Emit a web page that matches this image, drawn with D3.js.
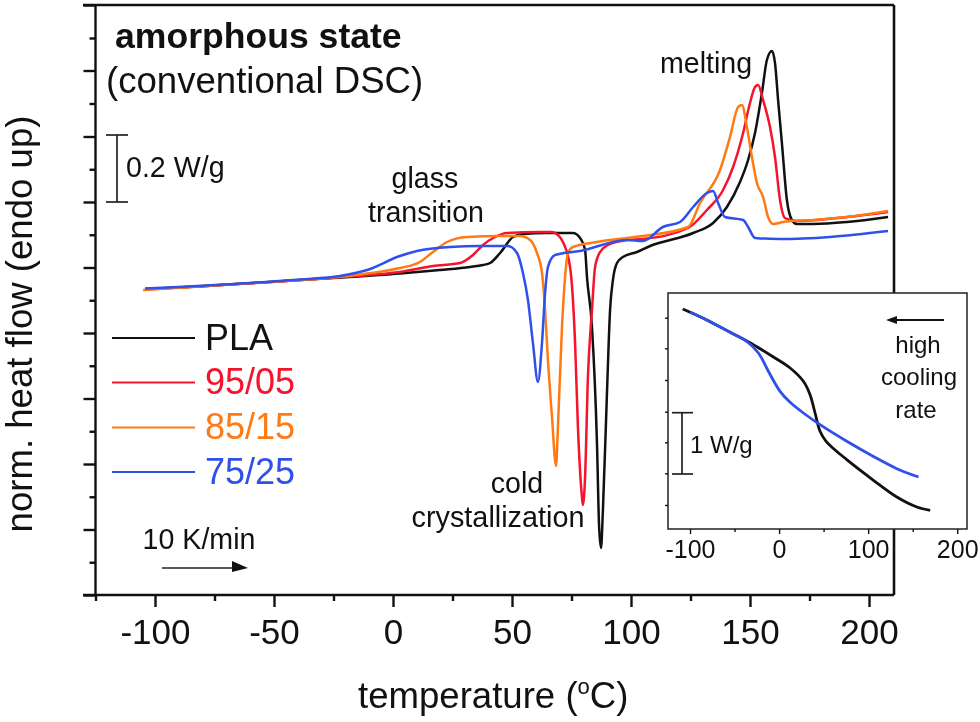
<!DOCTYPE html>
<html><head><meta charset="utf-8">
<script src="https://cdn.jsdelivr.net/npm/d3@7"></script>
<style>html,body{margin:0;padding:0;background:#fff}svg{display:block;filter:blur(0.45px)}text{font-family:"Liberation Sans",Arial,sans-serif;fill:#111}</style>
</head><body><svg id="c" width="980" height="722"></svg>
<script>
// Heat-flow values are in arbitrary units: the reference's y axis has no numbers.
const pla = [[-104.2,306],[-81.1,308.6],[-60.1,311.8],[-39.1,315],[-18.1,318],[2.9,321.5],[19.7,325],[32.4,328],[37.8,330],[40.8,332],[45,342],[50.4,358],[54.6,361],[64.7,362],[75.6,362],[78.6,357],[80.7,345],[81.5,318],[83.6,268],[85.7,152],[86.6,68],[87.4,47],[88.2,85],[89.9,202],[91.2,285],[92.4,315],[94.1,332],[96.6,338],[102.5,343],[108,349],[126.1,362],[134.5,372],[140.3,388],[145.8,413],[149.2,435],[152.1,462],[155,502],[157.1,535],[159.2,544],[160.5,532],[161.8,495],[163.4,452],[165.5,395],[167.6,375],[169.7,371],[176.5,371],[190.8,373],[208,378]];
const b9505 = [[-104.2,305.5],[-60.1,311.8],[-18.1,318.5],[2.9,323],[16.8,329],[28.2,332],[33.6,340],[37.8,350],[42.9,358],[47.9,362],[61.8,363],[66.8,363],[69.3,360],[71.4,353],[74.4,328],[76.5,252],[77.7,168],[79.4,98],[79.8,90],[80.7,118],[81.9,218],[83.6,285],[84.9,328],[87,343],[90.3,350],[98.3,355],[105,356],[124,367],[131.9,385],[138.7,405],[142.9,428],[147.1,462],[150,492],[152.1,508],[153.4,510],[155.5,495],[158.4,468],[160.5,438],[162.6,395],[164.7,377],[169.7,374],[190.8,378],[208,383]];
const b8515 = [[-105,305],[-60.1,311.8],[-25.2,317.5],[-10.9,321.5],[2.9,327],[11.3,333],[16.8,343],[22.7,353],[31.1,358],[45,359],[53.4,359],[57.6,355],[60.5,342],[62.6,322],[63.9,285],[65.1,235],[66.8,178],[68.5,129],[69.3,168],[71,268],[72.3,318],[73.5,342],[75.6,348],[85.7,353],[98.3,357],[105,359],[124,368],[129,392],[137.4,425],[141.6,458],[145,488],[146.6,490],[148.7,468],[150.8,438],[152.9,412],[155.5,398],[157.6,378],[159.7,371],[163.9,373],[176.5,375],[190.8,378],[208,384]];
const b7525 = [[-104.2,306.5],[-60.1,312],[-39.1,315.5],[-22.3,319],[-10.9,325],[2.9,339],[10.1,344],[23.9,348],[36.6,349],[48.3,349],[52.1,342],[54.6,322],[56.7,295],[58.8,252],[60.9,213],[62.6,252],[63.9,302],[65.1,328],[68.1,340],[78.6,344],[98.3,355],[105,354],[113.4,368],[120.6,373],[126.1,388],[131.9,402],[134.5,404],[136.6,392],[139.5,378],[147.1,375],[149.2,368],[152.1,357],[162.6,356],[183.6,358],[208,364]];
const insetPla = [[-108.2,220],[-81.7,209.3],[-55,196.7],[-28.8,184.3],[-6.4,172],[12.4,161],[27.3,147.7],[34.8,134.3],[40.4,116],[46,97.7],[52.8,87.7],[76,69.3],[106,48.7],[132.2,32],[154.7,22],[169.7,18.7]];
const inset7525 = [[-100,217],[-81.7,209.3],[-55,196.7],[-36.3,187.7],[-23.2,176],[-12,157.7],[1.1,137.7],[12.4,126.7],[27.3,116],[46,104.3],[76,87.7],[106,72.5],[132.2,60.3],[156.6,52]];
const seriesNames = ["PLA","95/05","85/15","75/25"];
const seriesColors = ["#111111","#f5142e","#ff7a12","#2f50ea"];
const mainXMajor = [-100,-50,0,50,100,150,200];
const mainXMinor = [-125,-75,-25,25,75,125,175];
const mainYMajor = [0,65.5,131,196.5,262,327.5,393,458.5,524.5,590];
const mainYMinor = [32.75,98.25,163.75,229.25,294.75,360.25,425.75,491.5,557];
const insetXMajor = [-100,0,100,200];
const insetXMinor = [-50,50,150];
const insetYTicks = [24,55.7,86.7,117.3,149,180.7,211.3];

const svg = d3.select("#c");
const mx = d3.scaleLinear().domain([-125,210.5]).range([95.5,894]);
const my = d3.scaleLinear().domain([0,590]).range([595,5]);
const ix = d3.scaleLinear().domain([-124.7,211]).range([668,967]);
const iy = d3.scaleLinear().domain([0,236]).range([529,293]);

function styleAxis(g){g.selectAll("path,line").attr("stroke","#111").attr("stroke-width",2.4);g.select(".domain").remove();}
function label(t,x,y,size,opt={}){
  const e=svg.append("text").attr("x",x).attr("y",y).attr("font-size",size).text(t);
  if(opt.anchor)e.attr("text-anchor",opt.anchor);
  if(opt.fill)e.style("fill",opt.fill);
  if(opt.weight)e.attr("font-weight",opt.weight);
  return e;
}
function rule(x1,y1,x2,y2,w=1.7,c="#222"){svg.append("line").attr("x1",x1).attr("y1",y1).attr("x2",x2).attr("y2",y2).attr("stroke",c).attr("stroke-width",w);}

// main frame + axes
rule(83,5,894,5,2.4,"#111"); rule(83,595,894,595,2.4,"#111");
rule(95.5,5,95.5,595,2.4,"#111"); rule(894,5,894,595,2.6,"#111");

const xG=svg.append("g").attr("transform","translate(0,595)");
xG.call(d3.axisBottom(mx).tickValues(mainXMajor).tickSize(12).tickFormat(d=>String(d))).call(styleAxis);
xG.selectAll("text").attr("font-size",35).attr("dy",0).attr("y",49).style("font-family",'"Liberation Sans"').attr("fill","#111");
const xM=svg.append("g").attr("transform","translate(0,595)");
xM.call(d3.axisBottom(mx).tickValues(mainXMinor).tickSize(6).tickFormat("")).call(styleAxis);
const yG=svg.append("g").attr("transform","translate(95.5,0)");
yG.call(d3.axisLeft(my).tickValues(mainYMajor).tickSize(12).tickFormat("")).call(styleAxis);
const yM=svg.append("g").attr("transform","translate(95.5,0)");
yM.call(d3.axisLeft(my).tickValues(mainYMinor).tickSize(6).tickFormat("")).call(styleAxis);

// main curves
const line=d3.line().x(d=>mx(d[0])).y(d=>my(d[1])).curve(d3.curveMonotoneX);
[pla,b9505,b8515,b7525].forEach((s,i)=>{
  svg.append("path").datum(s).attr("d",line).attr("fill","none").attr("stroke",seriesColors[i]).attr("stroke-width",2.5).attr("stroke-linejoin","round");
});

// titles
label("amorphous state",115,48,35.6,{weight:"bold"});
label("(conventional DSC)",106,93,36.6);
label("0.2 W/g",126,177,28.6);
label("glass",425,188,28.6,{anchor:"middle"});
label("transition",426,222,28.6,{anchor:"middle"});
label("melting",706,73,28.6,{anchor:"middle"});
label("cold",517,493,28.6,{anchor:"middle"});
label("crystallization",498,527,28.8,{anchor:"middle"});
label("10 K/min",199,549,28.6,{anchor:"middle"});

// 0.2 W/g bar
rule(117,135,117,202); rule(106,135,128,135); rule(106,202,128,202);

// legend
seriesNames.forEach((n,i)=>{
  const ly=[338,382.5,427.5,472][i];
  rule(112,ly,195,ly,2.2,seriesColors[i]);
  label(n,205,ly+11.5,36,{fill:seriesColors[i]});
});

// rate arrow
rule(162,568,238,568,1.5,"#222");
svg.append("path").attr("d","M232,561L248,568L232,572Z").attr("fill","#111");

// axis titles
label("norm. heat flow (endo up)",0,0,36.6,{anchor:"middle"}).attr("transform","translate(32,324) rotate(-90)");
const tt=label("temperature (",358,708,36.6);
tt.append("tspan").attr("dy",-14).attr("font-size",22).text("o");
tt.append("tspan").attr("dy",14).text("C)");

// inset
svg.append("rect").attr("x",668).attr("y",293).attr("width",299).attr("height",236).attr("fill","#fff").attr("stroke","#222").attr("stroke-width",1.5);
const ixG=svg.append("g").attr("transform","translate(0,529)");
ixG.call(d3.axisBottom(ix).tickValues(insetXMajor).tickSize(5).tickFormat(d=>String(d))).call(styleAxis);
ixG.selectAll("line").attr("stroke-width",1.4);
ixG.selectAll("text").attr("font-size",25).attr("dy",0).attr("y",29).style("font-family",'"Liberation Sans"').attr("fill","#111");
const ixM=svg.append("g").attr("transform","translate(0,529)");
ixM.call(d3.axisBottom(ix).tickValues(insetXMinor).tickSize(3).tickFormat("")).call(styleAxis);
ixM.selectAll("line").attr("stroke-width",1.4);
const iyG=svg.append("g").attr("transform","translate(668,0)");
iyG.call(d3.axisLeft(iy).tickValues(insetYTicks).tickSize(3).tickFormat("")).call(styleAxis);
iyG.selectAll("line").attr("stroke-width",1.4);
const iline=d3.line().x(d=>ix(d[0])).y(d=>iy(d[1])).curve(d3.curveCatmullRom);
svg.append("path").datum(insetPla).attr("d",iline).attr("fill","none").attr("stroke",seriesColors[0]).attr("stroke-width",2.8);
svg.append("path").datum(inset7525).attr("d",iline).attr("fill","none").attr("stroke",seriesColors[3]).attr("stroke-width",2.8);

// inset annotations
rule(682,412.7,682,474); rule(672,412.7,693,412.7); rule(672,474,693,474);
label("1 W/g",690,453,24);
label("high",918,353,24,{anchor:"middle"});
label("cooling",919,385,24,{anchor:"middle"});
label("rate",916,418,24,{anchor:"middle"});
rule(944,320,892,320,2,"#111");
svg.append("path").attr("d","M886,320L897,316L897,324Z").attr("fill","#111");
</script></body></html>
